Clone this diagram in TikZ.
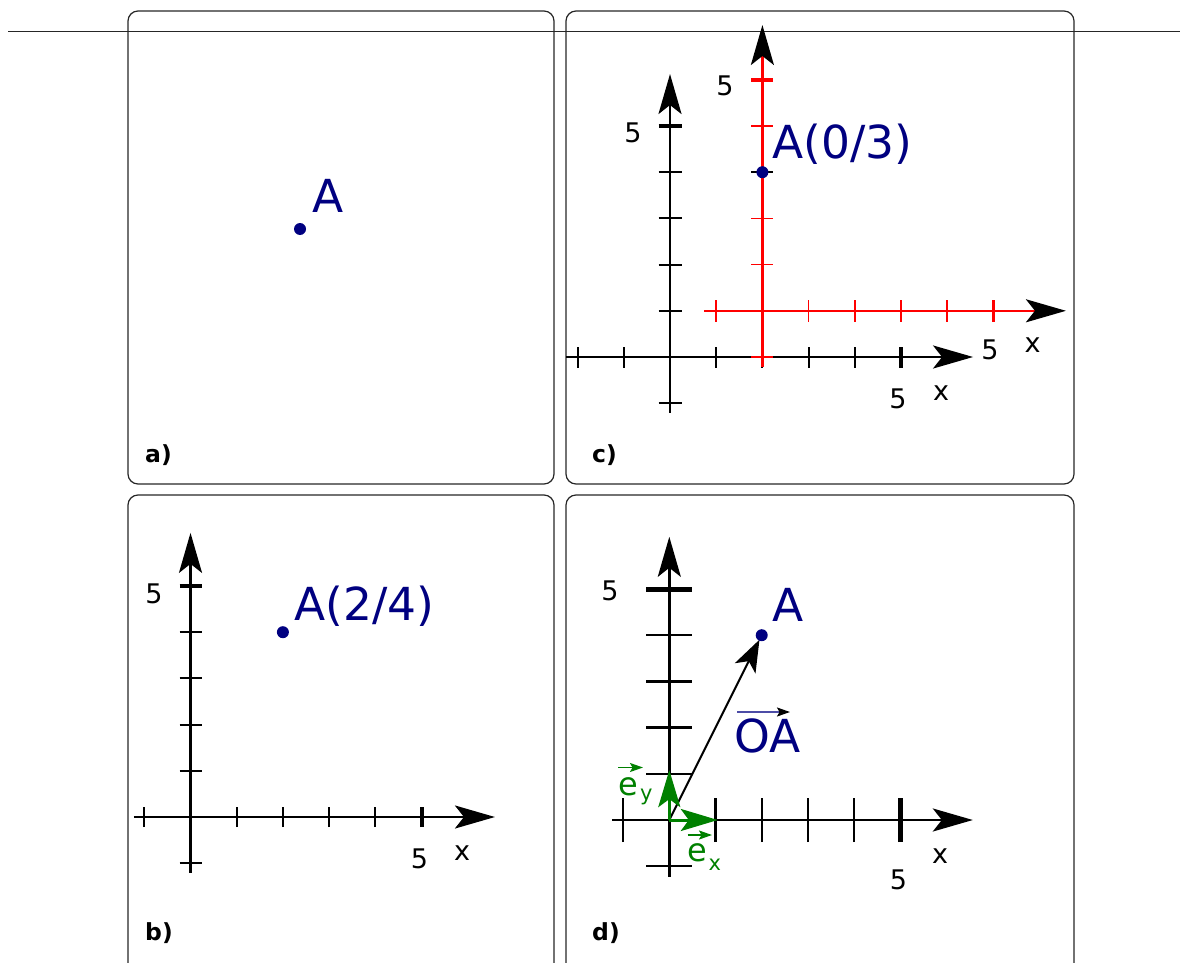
\documentclass[tikz,border=0pt]{standalone}
\usepackage{fontspec}
\setmainfont{DejaVu Sans}
\usetikzlibrary{arrows.meta}
\definecolor{navyA}{RGB}{0,0,128}
\definecolor{greenA}{RGB}{0,128,0}
\definecolor{redA}{RGB}{255,0,0}
\newcommand\fsBig{\fontsize{45.5}{54}\selectfont}
\newcommand\fsTick{\fontsize{27}{32}\selectfont}
\newcommand\fsPanel{\fontsize{23.5}{28}\selectfont\bfseries}
\newcommand\fsVec{\fontsize{32}{38}\selectfont}
\newcommand\fsSub{\fontsize{21}{25}\selectfont}
\begin{document}
\begin{tikzpicture}[x=1pt,y=-1pt,
  frame/.style={draw=black!85,line width=1.2pt,rounded corners=10pt},
  axis/.style={line width=2.6pt,-{Stealth[length=40pt,width=23pt,inset=9pt]}},
  raxis/.style={redA,line width=2.4pt,-{Stealth[length=40pt,width=23pt,inset=9pt,color=black]}},
  tickm/.style={line width=2pt},
  tickf/.style={line width=4pt},
  rtickm/.style={redA,line width=1.6pt},
  rtickf/.style={redA,line width=3.5pt},
  dtickm/.style={line width=2.4pt},
  dtickf/.style={line width=5pt},
  ptlabel/.style={text=navyA,font=\fsBig,inner sep=0pt,anchor=base west},
  ticklabel/.style={font=\fsTick,inner sep=0pt,anchor=center},
  panellabel/.style={font=\fsPanel,inner sep=0pt,anchor=base west},
  greenvec/.style={greenA,line width=3pt,-{Stealth[length=37pt,width=22pt,inset=8pt]}},
  smallvec/.style={line width=1.6pt,-{Stealth[length=13pt,width=9pt,inset=2.5pt]}},
  dotA/.style={fill=navyA}
]
\useasboundingbox (0,0) rectangle (1180,963);

% frames
\draw[frame] (128,11) rectangle (554,484);
\draw[frame] (566,11) rectangle (1074,484);
\draw[frame] (128,495) rectangle (554,985);
\draw[frame] (566,495) rectangle (1074,985);

% top rule
\coordinate (ruleL) at (8,31.5);
\coordinate (ruleR) at (1180,31.5);
\draw[black!85,line width=1.2pt] (ruleL) -- (ruleR);

% ---------- panel a ----------
\coordinate (Aa) at (300,229);
\fill[dotA] (Aa) circle[radius=6];
\node[ptlabel] (labAa) at (312,212) {A};
\node[panellabel] (pa) at (145,462) {a)};

% ---------- panel b ----------
\begin{scope}[shift={(190.5,817)},x=46.2pt,y=46.2pt]
  \coordinate (Ob) at (0,0);
  \coordinate (bxs) at (-1.223,0); \coordinate (bxe) at (6.59,0);
  \coordinate (bys) at (0,-1.21);  \coordinate (bye) at (0,6.15);
  \foreach \k in {-1,1,2,3,4} {
    \draw[tickm] (\k,0) ++(0,-10pt) -- ++(0,20pt);
    \draw[tickm] (0,\k) ++(-11pt,0) -- ++(22pt,0);
  }
  \draw[tickf] (5,0) ++(0,-10pt) -- ++(0,20pt);
  \draw[tickf] (0,5) ++(-11pt,0) -- ++(22pt,0);
  \draw[axis] (bxs) -- (bxe);
  \draw[axis] (bys) -- (bye);
  \coordinate (Ab) at (2,4);
  \fill[dotA] (Ab) circle[radius=6pt];
\end{scope}
\node[ptlabel] (labAb) at (294,620) {A(2/4)};
\node[ticklabel] (b5y) at (154,593.5) {5};
\node[ticklabel] (b5x) at (419.5,859) {5};
\node[ticklabel] (bx) at (462,853.5) {x};
\node[panellabel] (pb) at (145,940) {b)};

% ---------- panel c ----------
\begin{scope}[shift={(670,357)},x=46.2pt,y=46.2pt]
  \coordinate (Oc) at (0,0);
  \coordinate (cxs) at (-2.25,0); \coordinate (cxe) at (6.56,0);
  \coordinate (cys) at (0,-1.21); \coordinate (cye) at (0,6.125);
  \foreach \k in {-2,-1,1,2,3,4} {
    \draw[tickm] (\k,0) ++(0,-10.5pt) -- ++(0,21pt);
  }
  \foreach \k in {-1,1,2,3,4} {
    \draw[tickm] (0,\k) ++(-11.5pt,0) -- ++(23pt,0);
  }
  \draw[tickf] (5,0) ++(0,-10.5pt) -- ++(0,21pt);
  \draw[tickf] (0,5) ++(-11.5pt,0) -- ++(23pt,0);
  \draw[axis] (cxs) -- (cxe);
  \draw[axis] (cys) -- (cye);
  \begin{scope}[shift={(2,1)}]
    \coordinate (Or) at (0,0);
    \coordinate (rxs) at (-1.264,0); \coordinate (rxe) at (6.57,0);
    \coordinate (rys) at (0,-1.216); \coordinate (rye) at (0,6.186);
    \foreach \k in {-1,1,2,3,4} {
      \draw[rtickm] (\k,0) ++(0,-11pt) -- ++(0,22pt);
    }
    \foreach \k in {-1,1,2,4} {
      \draw[rtickm] (0,\k) ++(-11pt,0) -- ++(22pt,0);
    }
    \draw[rtickf] (5,0) ++(0,-11pt) -- ++(0,22pt);
    \draw[rtickf] (0,5) ++(-11pt,0) -- ++(22pt,0);
    \draw[raxis] (rxs) -- (rxe);
    \draw[raxis] (rys) -- (rye);
    \coordinate (Ac) at (0,3);
    \draw[line width=1.6pt] (Ac) ++(-11pt,0) -- ++(22pt,0);
    \fill[dotA] (Ac) circle[radius=6pt];
  \end{scope}
\end{scope}
\node[ptlabel] (labAc) at (772,158) {A(0/3)};
\node[ticklabel] (c5y) at (633,133) {5};
\node[ticklabel] (c5x) at (898,399) {5};
\node[ticklabel] (cx) at (941,393) {x};
\node[ticklabel] (r5y) at (725,85.5) {5};
\node[ticklabel] (r5x) at (990,350) {5};
\node[ticklabel] (rx) at (1032.7,345) {x};
\node[panellabel] (pc) at (592,462) {c)};

% ---------- panel d ----------
\begin{scope}[shift={(669.3,820)},x=46.2pt,y=46.2pt]
  \coordinate (Od) at (0,0);
  \coordinate (dxs) at (-1.24,0); \coordinate (dxe) at (6.57,0);
  \coordinate (dys) at (0,-1.227); \coordinate (dye) at (0,6.13);
  \foreach \k in {-1,1,2,3,4} {
    \draw[dtickm] (\k,0) ++(0,-22pt) -- ++(0,44pt);
    \draw[dtickm] (0,\k) ++(-23pt,0) -- ++(46pt,0);
  }
  \draw[dtickf] (5,0) ++(0,-22pt) -- ++(0,44pt);
  \draw[dtickf] (0,5) ++(-23pt,0) -- ++(46pt,0);
  \draw[axis] (dxs) -- (dxe);
  \draw[axis] (dys) -- (dye);
  \coordinate (Ad) at (2,4);
  \coordinate (ex) at (1.05,0);
  \coordinate (ey) at (0,1.08);
  \draw[line width=2pt,shorten >=5pt,-{Stealth[length=32pt,width=23pt,inset=8pt]}] (Od) -- (Ad);
  \draw[greenvec] (Od) -- (ex);
  \draw[greenvec] (Od) -- (ey);
  \fill[dotA] (Ad) circle[radius=6pt];
\end{scope}
\node[ptlabel] (labAd) at (772,621) {A};
\node[ptlabel] (labOA) at (734,752) {OA};
\coordinate (oaL) at (737,712);
\coordinate (oaR) at (790,712);
\draw[navyA!70,smallvec,-{Stealth[length=13pt,width=9pt,inset=2.5pt,color=black]}] (oaL) -- (oaR);
% e_y
\node[font=\fsVec,text=greenA,inner sep=0pt,anchor=base west] (eyE) at (618,795) {e};
\node[font=\fsSub,text=greenA,inner sep=0pt,anchor=base west] (eyS) at (640,800) {y};
\coordinate (eyL) at (618,767.5);
\coordinate (eyR) at (643,767.5);
\draw[greenA,smallvec] (eyL) -- (eyR);
% e_x
\node[font=\fsVec,text=greenA,inner sep=0pt,anchor=base west] (exE) at (687,861.5) {e};
\node[font=\fsSub,text=greenA,inner sep=0pt,anchor=base west] (exS) at (708.5,870) {x};
\coordinate (exL) at (687.5,835);
\coordinate (exR) at (712,835);
\draw[greenA,smallvec] (exL) -- (exR);
\node[ticklabel] (d5y) at (610,591) {5};
\node[ticklabel] (d5x) at (898.5,879.5) {5};
\node[ticklabel] (dx) at (940,856) {x};
\node[panellabel] (pd) at (592,940) {d)};
\end{tikzpicture}
\end{document}
